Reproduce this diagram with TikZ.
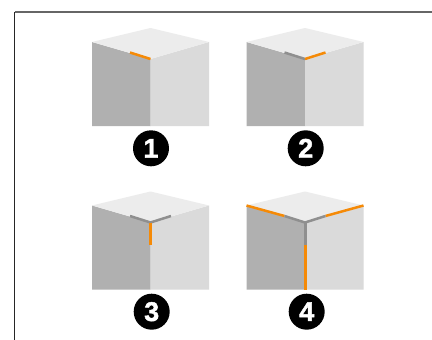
\documentclass[tikz,border=0pt]{standalone}
\usepackage{fontspec}
\setmainfont[BoldFeatures={FakeBold=1.6}]{Liberation Sans}
\definecolor{edgeorange}{HTML}{F58A07}
\definecolor{edgegray}{HTML}{8F8F8F}
\definecolor{faceleft}{HTML}{B0B0B0}
\definecolor{faceright}{HTML}{DADADA}
\definecolor{facetop}{HTML}{ECECEC}
\tikzset{
  doneedge/.style={draw=edgegray,line width=2.5pt},
  newedge/.style={draw=edgeorange,line width=2.5pt},
  upright/.style={line width=3pt},
  badge/.style={circle,fill=black,text=white,minimum size=36pt,inner sep=0pt,font=\bfseries\fontsize{27}{27}\selectfont},
  pics/cube/.style={code={
    \fill[faceleft] (-58.5,-17) -- (0,0) -- (0,67) -- (-58.5,67) -- cycle;
    \fill[faceright] (58.5,-17) -- (0,0) -- (0,67) -- (58.5,67) -- cycle;
    \fill[facetop] (0,-31) -- (58.5,-17) -- (0,0) -- (-58.5,-17) -- cycle;
  }}
}
\begin{document}
\begin{tikzpicture}[x=1pt,y=-1pt]
\useasboundingbox (0,0) rectangle (432,340);
\fill[white] (0,0) rectangle (432,340);
\draw[color=black!60,line width=1.3pt] (14.5,12) -- (432,12);
\draw[color=black!85,line width=1.3pt] (14.5,12) -- (14.5,340);
% cube 1
\begin{scope}[shift={(150.5,59)}]
  \pic {cube};
  \draw[newedge] (-20.5,-6.5) -- (0,0);
\end{scope}
% cube 2
\begin{scope}[shift={(305,59)}]
  \pic {cube};
  \draw[doneedge] (-20.5,-6.5) -- (0,0);
  \draw[newedge] (0,0) -- (20.5,-6.5);
\end{scope}
% cube 3
\begin{scope}[shift={(150.5,222.5)}]
  \pic {cube};
  \draw[doneedge] (-20.5,-6.5) -- (0,0) -- (20.5,-6.5);
  \draw[newedge,upright] (0,0) -- (0,22.5);
\end{scope}
% cube 4
\begin{scope}[shift={(305,222.5)}]
  \pic {cube};
  \draw[newedge] (-58.5,-17) -- (-20.5,-6.5);
  \draw[newedge] (58.5,-17) -- (20.5,-6.5);
  \draw[newedge,upright] (0,22.5) -- (0,67);
  \draw[doneedge,line join=bevel] (-20.5,-6.5) -- (0,0) -- (20.5,-6.5);
  \draw[doneedge,upright] (0,0) -- (0,22.5);
\end{scope}
\node[badge] (one) at (151,148.3) {1};
\node[badge] (two) at (305.7,148.3) {2};
\node[badge] (three) at (151.7,311.7) {3};
\node[badge] (four) at (306.7,311.7) {4};
\end{tikzpicture}
\end{document}
